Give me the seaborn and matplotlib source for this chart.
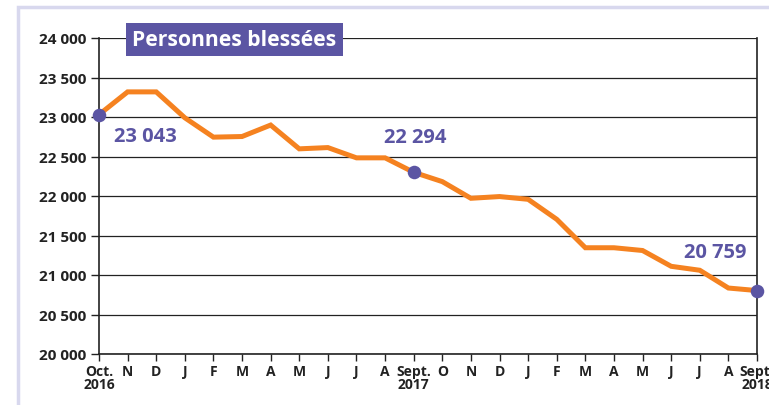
import matplotlib
matplotlib.use("Agg")
import matplotlib.pyplot as plt
import seaborn as sns
import pandas as pd
from matplotlib.patches import Rectangle

months = ["Oct.\n2016", "N", "D", "J", "F", "M", "A", "M", "J", "J", "A", "Sept.\n2017",
          "O", "N", "D", "J", "F", "M", "A", "M", "J", "J", "A", "Sept.\n2018"]
values = [23030, 23318, 23318, 22990, 22745, 22753, 22898, 22597, 22613, 22483, 22483, 22300,
          22182, 21971, 21993, 21958, 21705, 21345, 21345, 21310, 21110, 21060, 20835, 20803]
highlight_idx = [0, 11, 23]
highlight_labels = ["23 043", "22 294", "20 759"]
yticks = [20000, 20500, 21000, 21500, 22000, 22500, 23000, 23500, 24000]
title = "Personnes blessées"

ORANGE = "#f58220"
PURPLE = "#5b55a3"
DARK = "#222222"

sns.set_theme(style="white")
plt.rcParams["font.family"] = ["Open Sans", "DejaVu Sans"]

fig = plt.figure(figsize=(7.69, 4.06), dpi=100)
fig.patch.set_facecolor("white")
ax = fig.add_axes([99/769, 1-355/406, (757-99)/769, (355-39)/406])

df = pd.DataFrame({"x": range(len(values)), "y": values})
sns.lineplot(data=df, x="x", y="y", ax=ax, color=ORANGE, linewidth=3.6, zorder=3,
             solid_joinstyle="miter")
hdf = df.iloc[highlight_idx]
ax.scatter(hdf["x"], hdf["y"], s=95, color=PURPLE, zorder=4, clip_on=False, linewidths=0)

ax.set_xlim(0, len(values)-1)
ax.set_ylim(20000, 24000)
ax.set_yticks(yticks)
ax.set_yticklabels([f"{v:,}".replace(",", " ") for v in yticks])
ax.set_xticks(range(len(values)))
ax.set_xticklabels(months, linespacing=0.95)
for lab in ax.get_xticklabels() + ax.get_yticklabels():
    lab.set_fontweight("bold")
    lab.set_color(DARK)
ax.tick_params(axis="y", labelsize=11, length=6, width=1, color=DARK, pad=3, direction="out", left=True)
ax.tick_params(axis="x", labelsize=10, length=5, width=1, color=DARK, pad=2, direction="out", bottom=True)

ax.set_xlabel("")
ax.set_ylabel("")
ax.grid(axis="y", color=DARK, linewidth=0.9)
ax.set_axisbelow(True)
for s in ["left", "bottom", "right"]:
    ax.spines[s].set_visible(True)
    ax.spines[s].set_color(DARK)
    ax.spines[s].set_linewidth(1.2)
ax.spines["top"].set_visible(False)

# annotations
ann_pos = [(145, 137), (415, 138), (715, 253)]
for (px, py), t in zip(ann_pos, highlight_labels):
    fig.text(px/769, 1-py/406, t, ha="center", va="center", fontsize=14.5,
             fontweight="bold", color=PURPLE)

# title box
fig.text(234.5/769, 1-40.5/406, title, ha="center", va="center", fontsize=15.2,
         fontweight="bold", color="white",
         bbox=dict(boxstyle="square,pad=0.3", facecolor=PURPLE, edgecolor="none"))

# outer frame
fig.patches.append(Rectangle((18/769, -0.1), 1.2, 1.1 - 8/406, transform=fig.transFigure,
                             fill=False, edgecolor="#d8d8ee", linewidth=2.5))

fig.savefig("out.png", dpi=100)
